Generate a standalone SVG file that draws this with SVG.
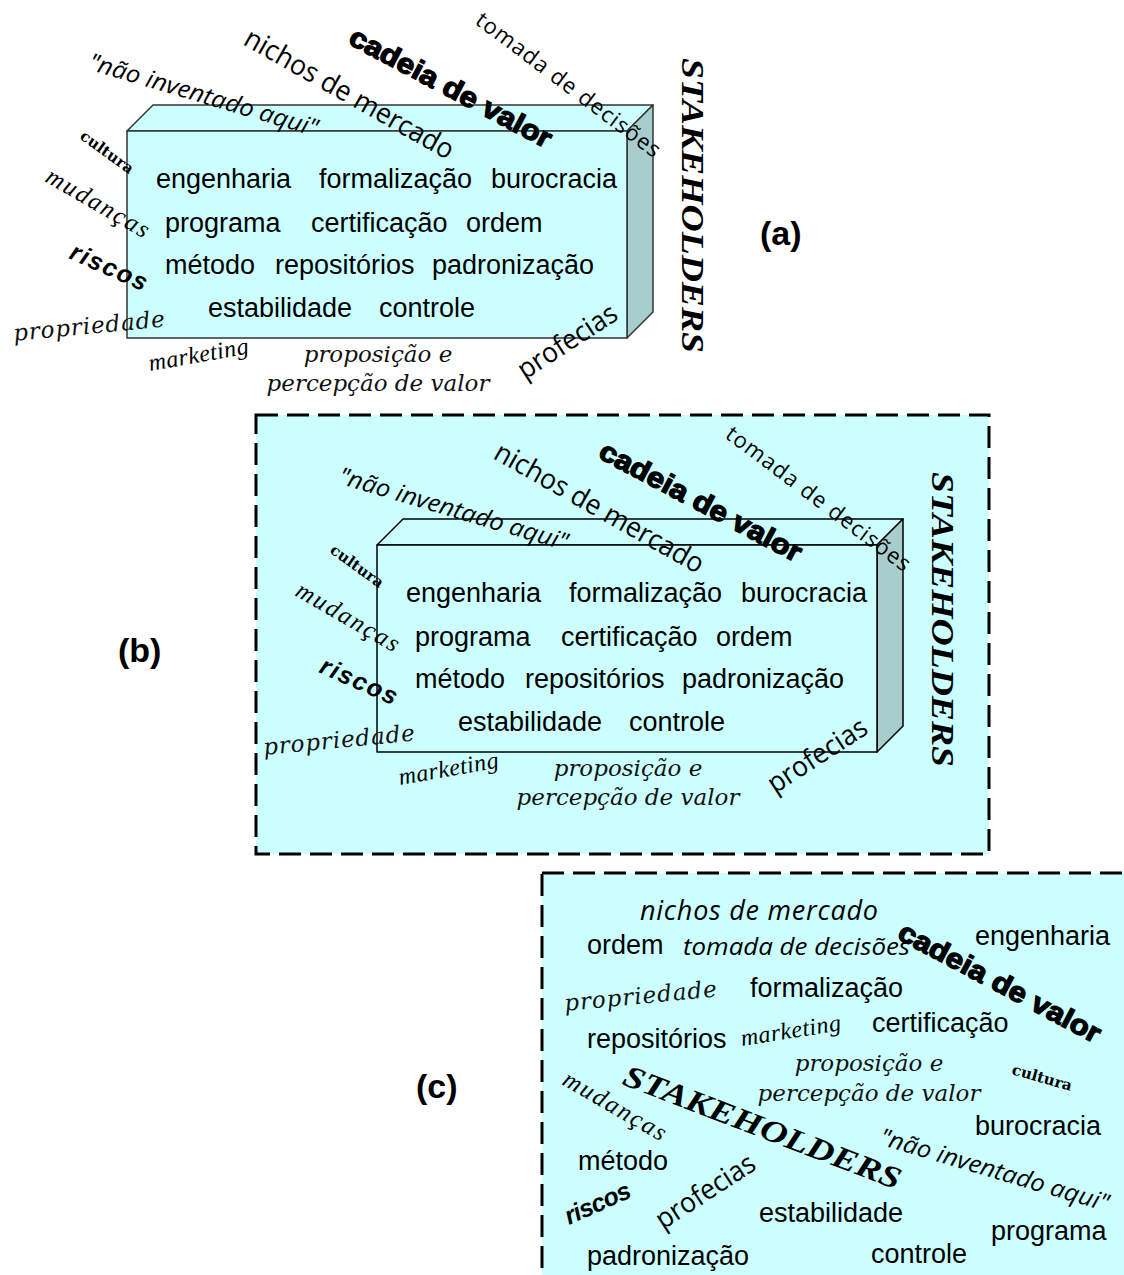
<svg xmlns="http://www.w3.org/2000/svg" width="1124" height="1275" viewBox="0 0 1124 1275">
  <style>
    .term { font-family: "Liberation Sans", Arial, sans-serif; font-size: 27px; fill: #000; }
    .tag { font-family: "Liberation Sans", Arial, sans-serif; font-size: 34px; font-weight: bold; fill: #000; }
    .hand { font-family: "Open Sans", "Noto Sans", sans-serif; fill: #000; }
    .hand-i { font-family: "Open Sans", "Noto Sans", sans-serif; font-style: italic; fill: #000; }
    .book-i { font-family: "DejaVu Serif", serif; font-style: italic; font-size: 23px; fill: #111; }
    .script { font-family: "Liberation Serif", serif; font-style: italic; fill: #000; }
    .bold-serif { font-family: "DejaVu Serif", serif; font-weight: bold; font-size: 15px; fill: #000; }
    .heavy { font-family: "Liberation Sans", Arial, sans-serif; font-weight: bold; font-size: 28px; fill: #000; stroke: #000; stroke-width: 1.3; }
    .bold-i { font-family: "Liberation Sans", Arial, sans-serif; font-weight: bold; font-style: italic; fill: #000; }
    .stake { font-family: "Liberation Serif", serif; font-weight: bold; font-style: italic; font-size: 31px; fill: #000; }
    .face { fill: #CCFFFF; }
    .side { fill: #A7CDCD; }
    .frame { fill: #CCFFFF; stroke: #000; stroke-width: 3; stroke-dasharray: 22 9; }
  </style>

  <!-- (a) the solid block with its surrounding words -->
  <g id="panel-a">
    <g id="block-a" stroke="#333" stroke-width="1.5" stroke-linejoin="round">
      <polygon class="face" points="127,131 153,105 653,105 627,131"/>
      <polygon class="side" points="627,131 653,105 653,312 627,338"/>
      <rect class="face" x="127" y="131" width="500" height="207"/>
    </g>
    <g id="terms-a">
      <text class="term" x="156" y="188">engenharia</text>
      <text class="term" x="319" y="188">formalização</text>
      <text class="term" x="491" y="188">burocracia</text>
      <text class="term" x="165" y="232">programa</text>
      <text class="term" x="311" y="232">certificação</text>
      <text class="term" x="466" y="232">ordem</text>
      <text class="term" x="165" y="274">método</text>
      <text class="term" x="275" y="274">repositórios</text>
      <text class="term" x="432" y="274">padronização</text>
      <text class="term" x="208" y="317">estabilidade</text>
      <text class="term" x="379" y="317">controle</text>
    </g>
    <g id="words-a">
      <text class="hand" font-size="28" transform="translate(242,44) rotate(29.5)" textLength="236" lengthAdjust="spacingAndGlyphs">nichos de mercado</text>
      <text class="heavy" transform="translate(347,43) rotate(28)" textLength="225" lengthAdjust="spacingAndGlyphs">cadeia de valor</text>
      <text class="hand" font-size="22" transform="translate(474,23) rotate(37)" textLength="225">tomada de decisões</text>
      <text class="hand-i" font-size="24" transform="translate(87,69) rotate(16.5)" textLength="238" lengthAdjust="spacingAndGlyphs">"não inventado aqui"</text>
      <text class="bold-serif" transform="translate(79,138) rotate(36)" textLength="62" lengthAdjust="spacingAndGlyphs">cultura</text>
      <text class="script" font-size="25" transform="translate(44,181) rotate(30)" textLength="115">mudanças</text>
      <text class="bold-i" font-size="25" transform="translate(68,258) rotate(24)" textLength="82">riscos</text>
      <text class="book-i" font-size="24" transform="translate(14,341) rotate(-5.5)" textLength="152">propriedade</text>
      <text class="script" font-size="24" transform="translate(150,371) rotate(-10)" textLength="101">marketing</text>
      <text class="book-i" x="378" y="362" text-anchor="middle">proposição e</text>
      <text class="book-i" x="378" y="391" text-anchor="middle">percepção de valor</text>
      <text class="hand" font-size="28" transform="translate(525,380) rotate(-33)" textLength="113" lengthAdjust="spacingAndGlyphs">profecias</text>
      <text class="stake" transform="translate(682,58) rotate(90)" textLength="295" lengthAdjust="spacingAndGlyphs">STAKEHOLDERS</text>
    </g>
    <text class="tag" x="760" y="245">(a)</text>
  </g>

  <!-- (b) the same block inside a dashed boundary -->
  <g id="panel-b">
    <rect class="frame" x="256" y="415" width="733" height="439"/>
    <g transform="translate(250,414)">
      <g id="block-b" stroke="#000" stroke-width="1.5" stroke-linejoin="round">
        <polygon class="face" points="127,131 153,105 653,105 627,131"/>
        <polygon class="side" points="627,131 653,105 653,312 627,338"/>
        <rect class="face" x="127" y="131" width="500" height="207"/>
      </g>
      <g id="terms-b">
        <text class="term" x="156" y="188">engenharia</text>
        <text class="term" x="319" y="188">formalização</text>
        <text class="term" x="491" y="188">burocracia</text>
        <text class="term" x="165" y="232">programa</text>
        <text class="term" x="311" y="232">certificação</text>
        <text class="term" x="466" y="232">ordem</text>
        <text class="term" x="165" y="274">método</text>
        <text class="term" x="275" y="274">repositórios</text>
        <text class="term" x="432" y="274">padronização</text>
        <text class="term" x="208" y="317">estabilidade</text>
        <text class="term" x="379" y="317">controle</text>
      </g>
      <g id="words-b">
        <text class="hand" font-size="28" transform="translate(242,44) rotate(29.5)" textLength="236" lengthAdjust="spacingAndGlyphs">nichos de mercado</text>
        <text class="heavy" transform="translate(347,43) rotate(28)" textLength="225" lengthAdjust="spacingAndGlyphs">cadeia de valor</text>
        <text class="hand" font-size="22" transform="translate(474,23) rotate(37)" textLength="225">tomada de decisões</text>
        <text class="hand-i" font-size="24" transform="translate(87,69) rotate(16.5)" textLength="238" lengthAdjust="spacingAndGlyphs">"não inventado aqui"</text>
        <text class="bold-serif" transform="translate(79,138) rotate(36)" textLength="62" lengthAdjust="spacingAndGlyphs">cultura</text>
        <text class="script" font-size="25" transform="translate(44,181) rotate(30)" textLength="115">mudanças</text>
        <text class="bold-i" font-size="25" transform="translate(68,258) rotate(24)" textLength="82">riscos</text>
        <text class="book-i" font-size="24" transform="translate(14,341) rotate(-5.5)" textLength="152">propriedade</text>
        <text class="script" font-size="24" transform="translate(150,371) rotate(-10)" textLength="101">marketing</text>
        <text class="book-i" x="378" y="362" text-anchor="middle">proposição e</text>
        <text class="book-i" x="378" y="391" text-anchor="middle">percepção de valor</text>
        <text class="hand" font-size="28" transform="translate(525,380) rotate(-33)" textLength="113" lengthAdjust="spacingAndGlyphs">profecias</text>
        <text class="stake" transform="translate(682,58) rotate(90)" textLength="295" lengthAdjust="spacingAndGlyphs">STAKEHOLDERS</text>
      </g>
    </g>
    <text class="tag" x="118" y="662">(b)</text>
  </g>

  <!-- (c) the words scattered freely inside a dashed boundary -->
  <g id="panel-c">
    <rect class="frame" x="542" y="873" width="600" height="450"/>
    <g id="words-c">
      <text class="hand-i" font-size="27" x="640" y="920" textLength="238">nichos de mercado</text>
      <text class="term" x="587" y="954">ordem</text>
      <text class="hand-i" font-size="24" x="683" y="955" textLength="227" lengthAdjust="spacingAndGlyphs">tomada de decisões</text>
      <text class="heavy" transform="translate(896,938) rotate(28)" textLength="225" lengthAdjust="spacingAndGlyphs">cadeia de valor</text>
      <text class="term" x="975" y="945">engenharia</text>
      <text class="book-i" font-size="24" transform="translate(565,1011) rotate(-5.5)" textLength="153">propriedade</text>
      <text class="term" x="750" y="997">formalização</text>
      <text class="term" x="587" y="1048">repositórios</text>
      <text class="script" font-size="24" transform="translate(742,1046) rotate(-9)" textLength="101">marketing</text>
      <text class="term" x="872" y="1032">certificação</text>
      <text class="book-i" x="869" y="1071" text-anchor="middle">proposição e</text>
      <text class="book-i" x="869" y="1101" text-anchor="middle">percepção de valor</text>
      <text class="bold-serif" transform="translate(1011,1074) rotate(16)" textLength="62" lengthAdjust="spacingAndGlyphs">cultura</text>
      <text class="stake" transform="translate(621,1084) rotate(21)" textLength="295" lengthAdjust="spacingAndGlyphs">STAKEHOLDERS</text>
      <text class="script" font-size="25" transform="translate(561,1084) rotate(30)" textLength="115">mudanças</text>
      <text class="term" x="975" y="1135">burocracia</text>
      <text class="hand-i" font-size="24" transform="translate(878,1144) rotate(16.5)" textLength="238" lengthAdjust="spacingAndGlyphs">"não inventado aqui"</text>
      <text class="term" x="578" y="1170">método</text>
      <text class="bold-i" font-size="25" transform="translate(569,1225) rotate(-24)" textLength="70">riscos</text>
      <text class="hand" font-size="28" transform="translate(663,1230) rotate(-33)" textLength="113" lengthAdjust="spacingAndGlyphs">profecias</text>
      <text class="term" x="759" y="1222">estabilidade</text>
      <text class="term" x="991" y="1240">programa</text>
      <text class="term" x="587" y="1265">padronização</text>
      <text class="term" x="871" y="1263">controle</text>
    </g>
    <text class="tag" x="416" y="1098">(c)</text>
  </g>
</svg>
